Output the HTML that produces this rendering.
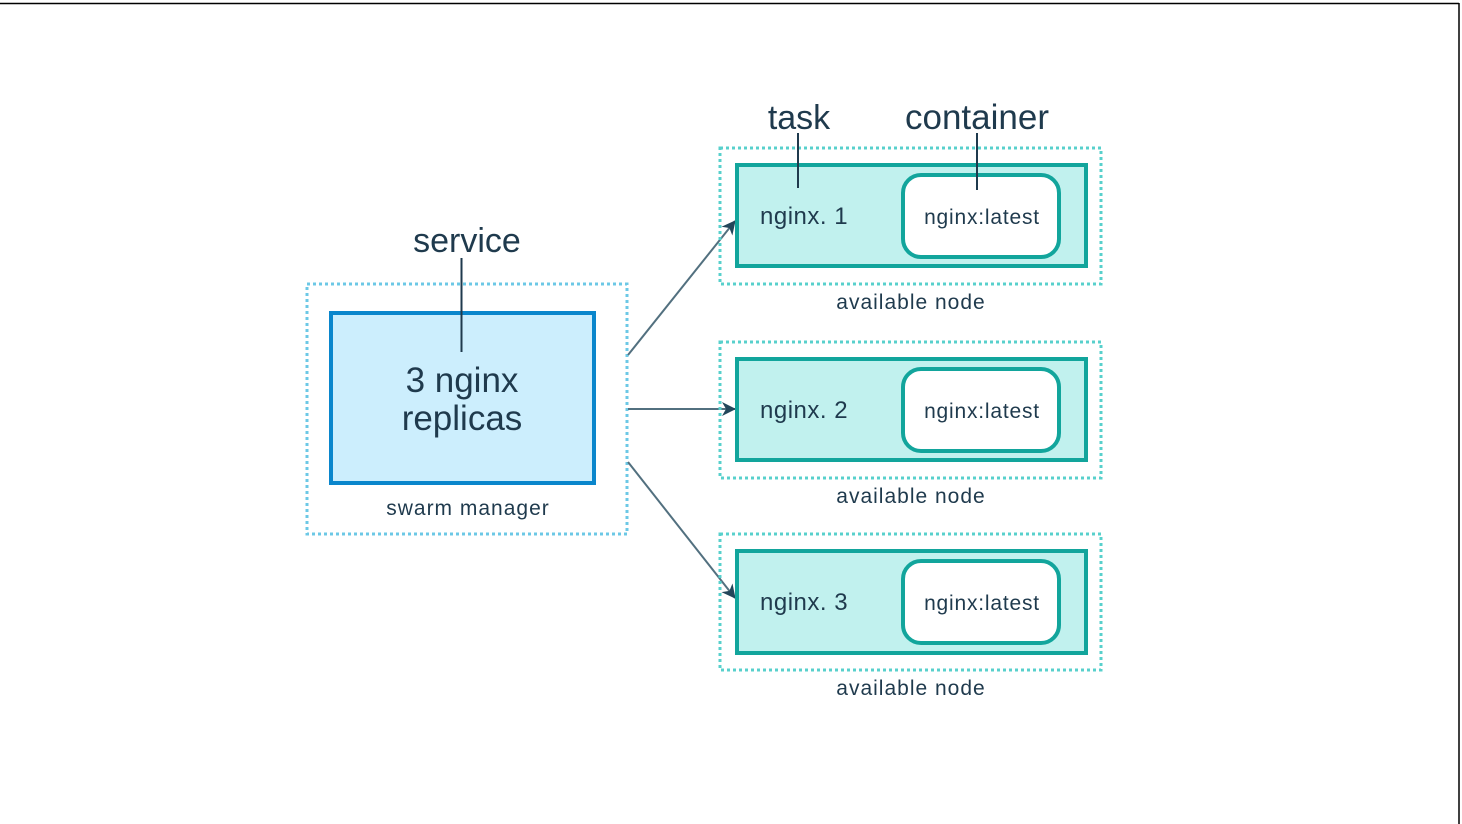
<!DOCTYPE html>
<html><head><meta charset="utf-8"><style>
html,body{margin:0;padding:0;background:#fff;}
svg{display:block;}
text{font-family:"Liberation Sans",sans-serif;fill:#1f3a4d;}
</style></head><body>
<svg width="1462" height="824" viewBox="0 0 1462 824" xmlns="http://www.w3.org/2000/svg">
<defs>
<marker id="ar" markerWidth="14" markerHeight="14" refX="13" refY="7" orient="auto" markerUnits="userSpaceOnUse">
<path d="M0,0 L14,7 L0,14 L4,7 z" fill="#23465a"/>
</marker>
</defs>
<line x1="0" y1="3.5" x2="1459" y2="3.5" stroke="#000" stroke-width="1.5"/>
<line x1="1459" y1="3" x2="1459" y2="824" stroke="#000" stroke-width="1.5"/>

<rect x="307" y="284" width="320" height="250" fill="none" stroke="#6cc8e6" stroke-width="3" stroke-dasharray="3 3"/>
<rect x="331" y="313" width="263" height="170" fill="#cceefd" stroke="#0a86cc" stroke-width="4"/>
<text x="467" y="252" font-size="34" text-anchor="middle">service</text>
<line x1="461.5" y1="258" x2="461.5" y2="352" stroke="#1f3a4d" stroke-width="2"/>
<text x="462" y="392" font-size="35" text-anchor="middle">3 nginx</text>
<text x="462" y="430" font-size="35" text-anchor="middle">replicas</text>
<text x="468" y="515" font-size="21" letter-spacing="1" text-anchor="middle">swarm manager</text>

<g stroke="#52707f" stroke-width="2" fill="none">
<line x1="628" y1="355" x2="735" y2="221" marker-end="url(#ar)"/>
<line x1="628" y1="409" x2="735" y2="409" marker-end="url(#ar)"/>
<line x1="628" y1="462" x2="735" y2="598" marker-end="url(#ar)"/>
</g>

<text x="799" y="129" font-size="34" text-anchor="middle">task</text>
<text x="977" y="129" font-size="35" text-anchor="middle">container</text>

<g>
<rect x="720" y="148" width="381" height="136" fill="none" stroke="#58d0cc" stroke-width="3" stroke-dasharray="3 3"/>
<rect x="737" y="165" width="349" height="101" fill="#c1f1ee" stroke="#12a59c" stroke-width="4"/>
<rect x="903" y="175" width="156" height="82" rx="18" fill="#fff" stroke="#12a59c" stroke-width="4"/>
<text x="760" y="224" font-size="24" letter-spacing="0.5">nginx. 1</text>
<text x="982" y="224" font-size="21" letter-spacing="0.8" text-anchor="middle">nginx:latest</text>
<text x="911" y="309" font-size="21" letter-spacing="1" text-anchor="middle">available node</text>
</g>
<line x1="798" y1="133" x2="798" y2="188" stroke="#1f3a4d" stroke-width="2"/>
<line x1="977" y1="133" x2="977" y2="190" stroke="#1f3a4d" stroke-width="2"/>

<g>
<rect x="720" y="342" width="381" height="136" fill="none" stroke="#58d0cc" stroke-width="3" stroke-dasharray="3 3"/>
<rect x="737" y="359" width="349" height="101" fill="#c1f1ee" stroke="#12a59c" stroke-width="4"/>
<rect x="903" y="369" width="156" height="82" rx="18" fill="#fff" stroke="#12a59c" stroke-width="4"/>
<text x="760" y="418" font-size="24" letter-spacing="0.5">nginx. 2</text>
<text x="982" y="418" font-size="21" letter-spacing="0.8" text-anchor="middle">nginx:latest</text>
<text x="911" y="503" font-size="21" letter-spacing="1" text-anchor="middle">available node</text>
</g>

<g>
<rect x="720" y="534" width="381" height="136" fill="none" stroke="#58d0cc" stroke-width="3" stroke-dasharray="3 3"/>
<rect x="737" y="551" width="349" height="102" fill="#c1f1ee" stroke="#12a59c" stroke-width="4"/>
<rect x="903" y="561" width="156" height="82" rx="18" fill="#fff" stroke="#12a59c" stroke-width="4"/>
<text x="760" y="610" font-size="24" letter-spacing="0.5">nginx. 3</text>
<text x="982" y="610" font-size="21" letter-spacing="0.8" text-anchor="middle">nginx:latest</text>
<text x="911" y="695" font-size="21" letter-spacing="1" text-anchor="middle">available node</text>
</g>
</svg>
</body></html>
